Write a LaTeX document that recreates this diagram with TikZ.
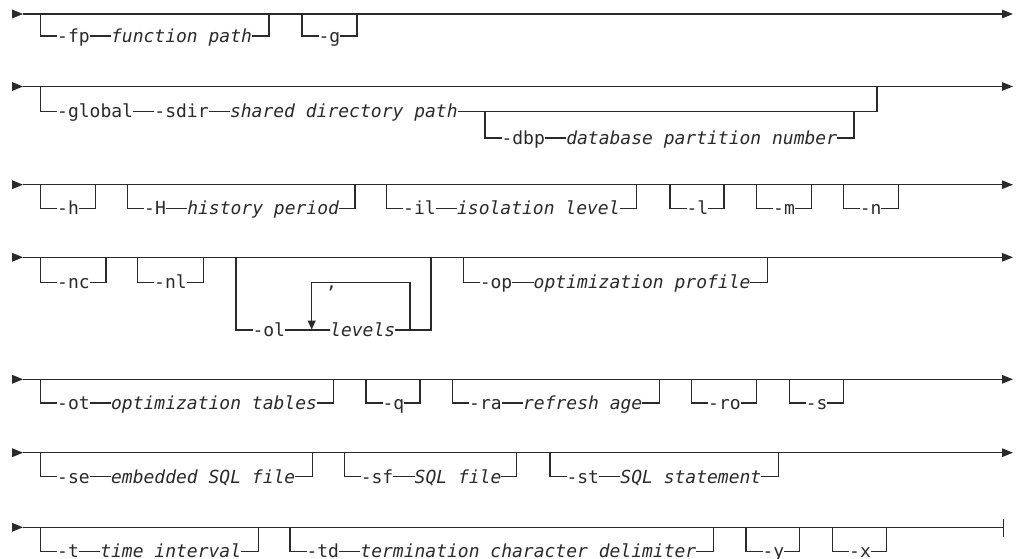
\documentclass[tikz,border=0pt]{standalone}
\usepackage{fontspec}
\usetikzlibrary{arrows.meta,positioning}
\newfontfamily\railfont{DejaVu Sans Mono}
\definecolor{ink}{HTML}{2A2A2A}
\tikzset{
  rail/.style={draw=ink, line width=1.25pt},
  endarrow/.style={rail, -{Triangle[length=11pt,width=8.5pt]}},
  kw/.style={font=\railfont\fontsize{18}{20}\selectfont, text=ink, fill=white, inner sep=0pt, anchor=base west},
  var/.style={kw, font=\railfont\itshape\fontsize{18}{20}\selectfont},
}
\newcommand\railopt[4]{\draw[rail] (#1,#3) |- (#2,#4) -- (#2,#3);}
\newcommand\railstart[1]{\fill[ink] (12,#1-4.5) -- (23,#1) -- (12,#1+4.5) -- cycle;}
\begin{document}
\begin{tikzpicture}[x=1pt,y=-1pt]
\useasboundingbox (0,0) rectangle (1017,559);

% ---------- Row 1 ----------
\railstart{14}
\coordinate (r1s) at (23,14); \coordinate (r1e) at (1013,14);
\draw[endarrow] (r1s) -- (r1e);
\railopt{40.7}{269}{14}{36}
\railopt{302}{357}{14}{36}
\node[kw] (fp) at (57,42.5) {-fp};
\node[var, base right=21pt of fp] (fpv) {function path};
\node[kw] (g) at (318.3,42.5) {-g};

% ---------- Row 2 ----------
\railstart{86.5}
\coordinate (r2s) at (23,86.5); \coordinate (r2e) at (1013,86.5);
\draw[endarrow] (r2s) -- (r2e);
\railopt{40.7}{877}{86.5}{111.5}
\railopt{485}{854}{111.5}{138}
\node[kw] (global) at (57,118) {-global};
\node[kw, base right=21pt of global] (sdir) {-sdir};
\node[var, base right=21pt of sdir] (sdirv) {shared directory path};
\node[kw] (dbp) at (501.3,144.5) {-dbp};
\node[var, base right=21pt of dbp] (dbpv) {database partition number};

% ---------- Row 3 ----------
\railstart{184.7}
\coordinate (r3s) at (23,184.7); \coordinate (r3e) at (1013,184.7);
\draw[endarrow] (r3s) -- (r3e);
\railopt{40.7}{95.7}{184.7}{208.3}
\railopt{127.7}{355}{184.7}{208.3}
\railopt{386.7}{636.7}{184.7}{208.3}
\railopt{670}{724}{184.7}{208.3}
\railopt{756.7}{811.7}{184.7}{208.3}
\railopt{843.3}{898.3}{184.7}{208.3}
\node[kw] (h) at (57,214.8) {-h};
\node[kw] (H) at (144,214.8) {-H};
\node[var, base right=21pt of H] (Hv) {history period};
\node[kw] (il) at (403,214.8) {-il};
\node[var, base right=21pt of il] (ilv) {isolation level};
\node[kw] (l) at (686.3,214.8) {-l};
\node[kw] (m) at (773,214.8) {-m};
\node[kw] (n) at (859.6,214.8) {-n};

% ---------- Row 4 ----------
\railstart{257.3}
\coordinate (r4s) at (23,257.3); \coordinate (r4e) at (1013,257.3);
\draw[endarrow] (r4s) -- (r4e);
\railopt{40.7}{106}{257.3}{282.3}
\railopt{137.7}{203.3}{257.3}{282.3}
\railopt{236}{431}{257.3}{330}
\railopt{463.3}{767.7}{257.3}{282.3}
\coordinate (loopR) at (410,330);
\coordinate (loopL) at (311.7,329.5);
\draw[rail, -{Triangle[length=9pt,width=8pt]}] (loopR) -- (410,282.3) -| (loopL);
\node[kw] (nc) at (57,288.8) {-nc};
\node[kw] (nl) at (154,288.8) {-nl};
\node[kw] (ol) at (252.3,336.5) {-ol};
\node[var] (levels) at (330,336.5) {levels};
\node[kw, anchor=base] (comma) at (331.5,288.8) {,};
\node[kw] (op) at (479.6,288.8) {-op};
\node[var, base right=21pt of op] (opv) {optimization profile};

% ---------- Row 5 ----------
\railstart{379.3}
\coordinate (r5s) at (23,379.3); \coordinate (r5e) at (1013,379.3);
\draw[endarrow] (r5s) -- (r5e);
\railopt{40.7}{333.3}{379.3}{403}
\railopt{366}{420}{379.3}{403}
\railopt{452.7}{659.3}{379.3}{403}
\railopt{691.7}{756.7}{379.3}{403}
\railopt{789.3}{843.3}{379.3}{403}
\node[kw] (ot) at (57,409.5) {-ot};
\node[var, base right=21pt of ot] (otv) {optimization tables};
\node[kw] (q) at (382.3,409.5) {-q};
\node[kw] (ra) at (469,409.5) {-ra};
\node[var, base right=21pt of ra] (rav) {refresh age};
\node[kw] (ro) at (708,409.5) {-ro};
\node[kw] (s) at (805.6,409.5) {-s};

% ---------- Row 6 ----------
\railstart{452.7}
\coordinate (r6s) at (23,452.7); \coordinate (r6e) at (1013,452.7);
\draw[endarrow] (r6s) -- (r6e);
\railopt{40.7}{312.3}{452.7}{476.7}
\railopt{344.3}{516.7}{452.7}{476.7}
\railopt{550}{778.3}{452.7}{476.7}
\node[kw] (se) at (57,483.2) {-se};
\node[var, base right=21pt of se] (sev) {embedded SQL file};
\node[kw] (sf) at (360.6,483.2) {-sf};
\node[var, base right=21pt of sf] (sfv) {SQL file};
\node[kw] (st) at (566.3,483.2) {-st};
\node[var, base right=21pt of st] (stv) {SQL statement};

% ---------- Row 7 ----------
\railstart{527.3}
\coordinate (r7s) at (23,527.3); \coordinate (r7e) at (1003.3,527.3);
\draw[rail] (r7s) -- (r7e);
\draw[rail] (1003.3,519) -- (1003.3,536.5);
\railopt{40.7}{258.3}{527.3}{551.5}
\railopt{290}{713.3}{527.3}{551.5}
\railopt{746}{799.3}{527.3}{551.5}
\railopt{832.7}{886.7}{527.3}{551.5}
\node[kw] (t) at (57,557.5) {-t};
\node[var, base right=21pt of t] (tv) {time interval};
\node[kw] (td) at (306.3,557.5) {-td};
\node[var, base right=21pt of td] (tdv) {termination character delimiter};
\node[kw] (y) at (762.3,557.5) {-y};
\node[kw] (x) at (849,557.5) {-x};
\end{tikzpicture}
\end{document}
